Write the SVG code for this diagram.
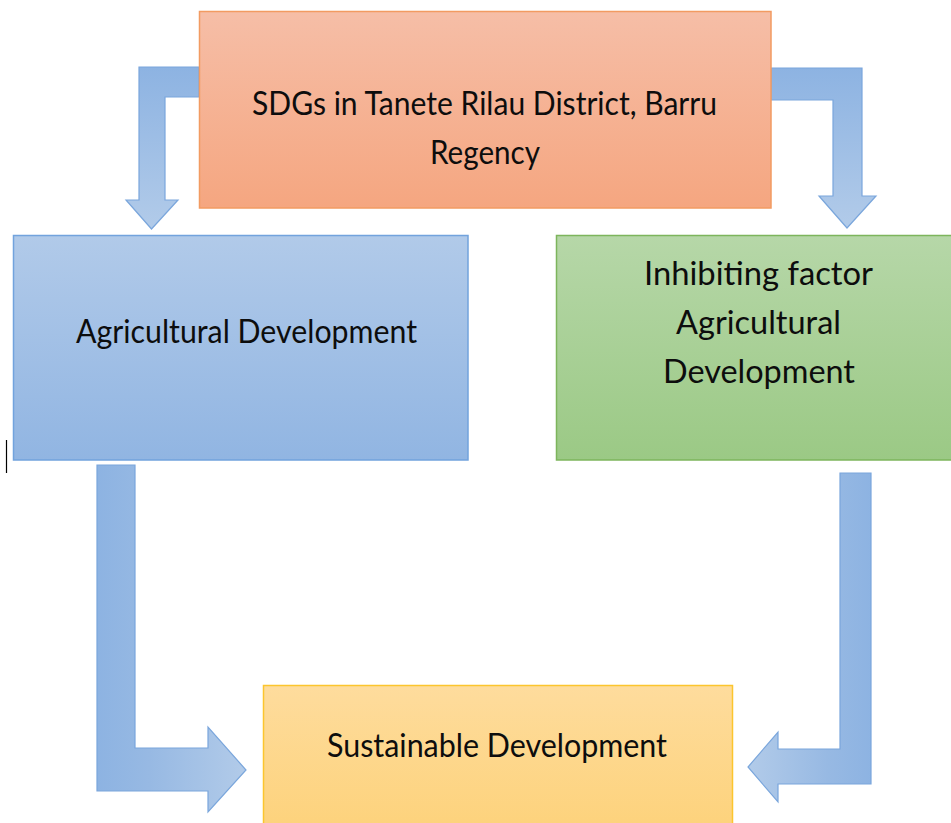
<svg xmlns="http://www.w3.org/2000/svg" width="951" height="823" viewBox="0 0 951 823">
  <defs>
    <linearGradient id="gOrange" x1="0" y1="0" x2="0" y2="1">
      <stop offset="0" stop-color="#f6bea7"/>
      <stop offset="1" stop-color="#f5a680"/>
    </linearGradient>
    <linearGradient id="gBlue" x1="0" y1="0" x2="0" y2="1">
      <stop offset="0" stop-color="#b1cae9"/>
      <stop offset="1" stop-color="#91b5e2"/>
    </linearGradient>
    <linearGradient id="gGreen" x1="0" y1="0" x2="0" y2="1">
      <stop offset="0" stop-color="#b6d7a8"/>
      <stop offset="1" stop-color="#9bc985"/>
    </linearGradient>
    <linearGradient id="gYellow" x1="0" y1="0" x2="0" y2="1">
      <stop offset="0" stop-color="#fedc9d"/>
      <stop offset="1" stop-color="#fdd27a"/>
    </linearGradient>
    <!-- arrow fills: darker at the tail, lighter toward the head -->
    <linearGradient id="aDown" x1="0" y1="0" x2="0" y2="1">
      <stop offset="0" stop-color="#8db3e2"/>
      <stop offset="1" stop-color="#b2cbe9"/>
    </linearGradient>
    <linearGradient id="aRight" x1="0" y1="0" x2="1" y2="0">
      <stop offset="0" stop-color="#8db3e2"/>
      <stop offset="0.35" stop-color="#97b9e3"/>
      <stop offset="1" stop-color="#b2cbe9"/>
    </linearGradient>
    <linearGradient id="aLeft" x1="1" y1="0" x2="0" y2="0">
      <stop offset="0" stop-color="#8db3e2"/>
      <stop offset="0.35" stop-color="#97b9e3"/>
      <stop offset="1" stop-color="#b2cbe9"/>
    </linearGradient>
  </defs>
  <style>
    .arrow { stroke: #7aa6dc; stroke-width: 1.2; stroke-linejoin: miter; }
    .box { stroke-width: 1.5; }
    .label { font-family: Lato, "Liberation Sans", sans-serif; font-size: 33px; fill: #0d0d0d; }
  </style>

  <rect width="951" height="823" fill="#ffffff"/>

  <g id="connectors">
    <path class="arrow" fill="url(#aDown)" d="M199,67 L139,67 L139,200 L126,200 L151.5,229 L178,200 L165,200 L165,97 L199,97 Z"/>
    <path class="arrow" fill="url(#aDown)" d="M771,68 L862,68 L862,196 L876,196 L847,228 L819,196 L833,196 L833,100 L771,100 Z"/>
    <path class="arrow" fill="url(#aRight)" d="M97,465 L135,465 L135,748 L208,748 L208,727 L246,770 L208,812 L208,791 L97,791 Z"/>
    <path class="arrow" fill="url(#aLeft)" d="M840,473 L871,473 L871,784 L778,784 L778,802 L748,767 L778,732 L778,749 L840,749 Z"/>
  </g>

  <g id="node-sdgs">
    <rect class="box" x="199.5" y="11.5" width="571.5" height="196.5" fill="url(#gOrange)" stroke="#f29b62"/>
    <text class="label" x="252" y="115" textLength="465" lengthAdjust="spacingAndGlyphs">SDGs in Tanete Rilau District, Barru</text>
    <text class="label" x="430" y="164" textLength="110" lengthAdjust="spacingAndGlyphs">Regency</text>
  </g>

  <g id="node-agricultural">
    <rect class="box" x="13.5" y="235.5" width="454.5" height="224.5" fill="url(#gBlue)" stroke="#72a3dd"/>
    <text class="label" x="76" y="343" textLength="341" lengthAdjust="spacingAndGlyphs">Agricultural Development</text>
  </g>

  <g id="node-inhibiting">
    <rect class="box" x="556.5" y="235.5" width="400" height="224.5" fill="url(#gGreen)" stroke="#7db55c"/>
    <text class="label" x="644" y="285" textLength="229" lengthAdjust="spacingAndGlyphs">Inhibiting factor</text>
    <text class="label" x="676" y="334" textLength="165" lengthAdjust="spacingAndGlyphs">Agricultural</text>
    <text class="label" x="663" y="383" textLength="192" lengthAdjust="spacingAndGlyphs">Development</text>
  </g>

  <g id="node-sustainable">
    <rect class="box" x="263.5" y="685.5" width="469" height="150" fill="url(#gYellow)" stroke="#fcc52e"/>
    <text class="label" x="327" y="757" textLength="340" lengthAdjust="spacingAndGlyphs">Sustainable Development</text>
  </g>

  <!-- text cursor mark at the left margin -->
  <line x1="6.5" y1="440" x2="6.5" y2="473" stroke="#000000" stroke-width="1.2"/>
</svg>
